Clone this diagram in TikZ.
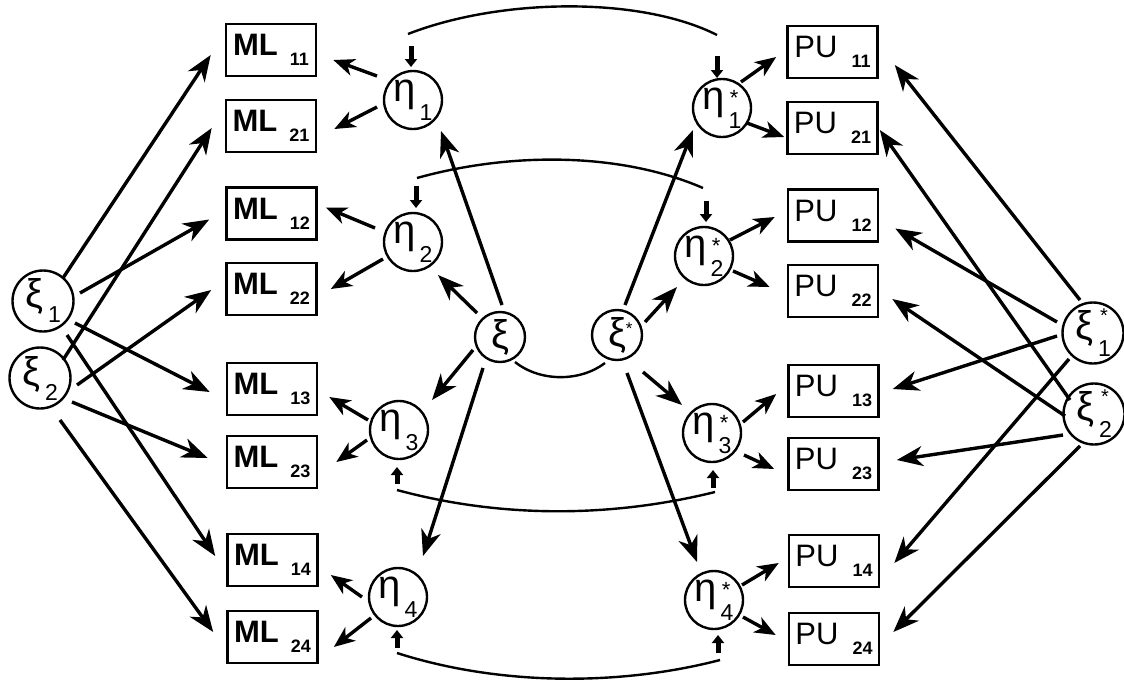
\documentclass[tikz,border=0pt]{standalone}
\usepackage{fontspec}
\setmainfont{Liberation Sans}
\usetikzlibrary{arrows.meta}
\newcommand\mlt[1]{{\fontsize{31}{31}\selectfont\bfseries ML}\hspace{12pt}\raisebox{-10pt}{\fontsize{18}{18}\selectfont\bfseries #1}}
\newcommand\pult[1]{{\fontsize{31}{31}\selectfont PU}\hspace{14pt}\raisebox{-10pt}{\fontsize{18}{18}\selectfont\bfseries #1}}
\newcommand\gkfont{\fontsize{40}{40}\selectfont}
\newcommand\gsub[2][19pt]{\raisebox{-#1}{\fontsize{23}{23}\selectfont #2}}
\newcommand\gstar[2][22pt]{\llap{\raisebox{#2}{\fontsize{#1}{#1}\selectfont *}\hspace{3pt}}}
\begin{document}
\begin{tikzpicture}[x=1pt,y=-1pt,
  box/.style={draw,line width=2.6pt,minimum width=90pt,minimum height=52pt,inner sep=0pt},
  lat/.style={draw,circle,line width=2.4pt,minimum size=58pt,inner sep=0pt},
  exo/.style={lat,minimum size=61pt},
  cen/.style={lat,minimum size=50pt},
  arr/.style={line width=3.4pt,-{Stealth[length=26pt,width=20pt,inset=8pt]}},
  sarr/.style={line width=3.4pt,-{Stealth[length=21pt,width=17pt,inset=6pt]}},
  dist/.style={line width=5pt,-{Triangle[length=8pt,width=12pt]}},
  corr/.style={line width=2.4pt}]
\useasboundingbox (0,0) rectangle (1124,681);
% boxes
\node[box] (ML11) at (271,50) {\mlt{11}};
\node[box] (ML21) at (271,126) {\mlt{21}};
\node[box] (ML12) at (271.5,213.5) {\mlt{12}};
\node[box] (ML22) at (271.5,289) {\mlt{22}};
\node[box] (ML13) at (272,389) {\mlt{13}};
\node[box] (ML23) at (272,462) {\mlt{23}};
\node[box] (ML14) at (272.5,560) {\mlt{14}};
\node[box] (ML24) at (272.5,637) {\mlt{24}};
\node[box] (PU11) at (832.5,52) {\pult{11}};
\node[box] (PU21) at (832.5,128) {\pult{21}};
\node[box] (PU12) at (833,215.5) {\pult{12}};
\node[box] (PU22) at (833,291) {\pult{22}};
\node[box] (PU13) at (833.5,391) {\pult{13}};
\node[box] (PU23) at (833.5,464) {\pult{23}};
\node[box] (PU14) at (834,561) {\pult{14}};
\node[box] (PU24) at (834,639) {\pult{24}};
% latent circles
\node[lat] (eta1) at (413,100) {{\gkfont η}\hspace{4pt}\gsub{1}};
\node[lat] (eta2) at (413,242) {{\gkfont η}\hspace{4pt}\gsub{2}};
\node[lat] (eta3) at (399,430) {{\gkfont η}\hspace{4pt}\gsub{3}};
\node[lat] (eta4) at (398,597) {{\gkfont η}\hspace{4pt}\gsub{4}};
\node[lat] (etas1) at (722,108) {{\gkfont η}\hspace{4pt}\gsub{1}\gstar{4pt}};
\node[lat] (etas2) at (704,256) {{\gkfont η}\hspace{4pt}\gsub{2}\gstar{4pt}};
\node[lat] (etas3) at (712,433) {{\gkfont η}\hspace{4pt}\gsub{3}\gstar{4pt}};
\node[lat] (etas4) at (714,600) {{\gkfont η}\hspace{4pt}\gsub{4}\gstar{4pt}};
\node[exo] (xi1) at (43,301) {{\gkfont ξ}\hspace{5pt}\gsub[15pt]{1}};
\node[exo] (xi2) at (40,378) {{\gkfont ξ}\hspace{5pt}\gsub[15pt]{2}};
\node[exo] (xis1) at (1093,333) {{\gkfont ξ}\hspace{5pt}\gsub[17pt]{1}\gstar[20pt]{17pt}};
\node[exo] (xis2) at (1094,414) {{\gkfont ξ}\hspace{5pt}\gsub[17pt]{2}\gstar[20pt]{17pt}};
\node[cen] (xi) at (500,337) {{\gkfont ξ}};
\node[cen] (xis) at (617,335) {{\gkfont ξ}\rlap{\raisebox{12pt}{\fontsize{17}{17}\selectfont *}}};
% left fan
\draw[arr] ([shift={(20,-23)}]xi1.center) -- ([shift={(-14,5)}]ML11.west);
\draw[arr] ([shift={(37,-8)}]xi1.center) -- ([shift={(-16,6)}]ML12.west);
\draw[arr] ([shift={(32,22)}]xi1.center) -- ([shift={(-16,3)}]ML13.west);
\draw[arr] ([shift={(24,34)}]xi1.center) -- ([shift={(-11,-4)}]ML14.west);
\draw[arr] ([shift={(23,-18)}]xi2.center) -- ([shift={(-13,2)}]ML21.west);
\draw[arr] ([shift={(37,7)}]xi2.center) -- ([shift={(-14,1)}]ML22.west);
\draw[arr] ([shift={(32,24)}]xi2.center) -- ([shift={(-18,-4)}]ML23.west);
\draw[arr] ([shift={(20,42)}]xi2.center) -- ([shift={(-13,-5)}]ML24.west);
% right fan
\draw[arr] ([shift={(-13,-33)}]xis1.center) -- ([shift={(16,13)}]PU11.east);
\draw[arr] ([shift={(-24,-14)}]xis2.center) -- ([shift={(1,2)}]PU21.east);
\draw[arr] ([shift={(-36,-11)}]xis1.center) -- ([shift={(16,13)}]PU12.east);
\draw[arr] ([shift={(-29,2)}]xis2.center) -- ([shift={(13,8)}]PU22.east);
\draw[arr] ([shift={(-36,3)}]xis1.center) -- ([shift={(13,-2)}]PU13.east);
\draw[arr] ([shift={(-31,21)}]xis2.center) -- ([shift={(17,-4)}]PU23.east);
\draw[arr] ([shift={(-24,26)}]xis1.center) -- ([shift={(14,2)}]PU14.east);
\draw[arr] ([shift={(-14,32)}]xis2.center) -- ([shift={(13,-7)}]PU24.east);
% centre
\draw[arr] ([shift={(2,-32)}]xi.center) -- ([shift={(28,31)}]eta1.center);
\draw[arr] ([shift={(-23,-24)}]xi.center) -- ([shift={(25,33)}]eta2.center);
\draw[arr] ([shift={(-27,13)}]xi.center) -- ([shift={(33,-30)}]eta3.center);
\draw[arr] ([shift={(-17,31)}]xi.center) -- ([shift={(25,-41)}]eta4.center);
\draw[arr] ([shift={(8,-30)}]xis.center) -- ([shift={(-29,22)}]etas1.center);
\draw[arr] ([shift={(28,-13)}]xis.center) -- ([shift={(-27,31)}]etas2.center);
\draw[arr] ([shift={(26,37)}]xis.center) -- ([shift={(-30,-28)}]etas3.center);
\draw[arr] ([shift={(10,38)}]xis.center) -- ([shift={(-17,-38)}]etas4.center);
% eta -> ML
\draw[sarr] ([shift={(-36,-24)}]eta1.center) -- ([shift={(16,10)}]ML11.east);
\draw[sarr] ([shift={(-36,7)}]eta1.center) -- ([shift={(17,3)}]ML21.east);
\draw[sarr] ([shift={(-38,-14)}]eta2.center) -- ([shift={(8,-6)}]ML12.east);
\draw[sarr] ([shift={(-30,17)}]eta2.center) -- ([shift={(13,0)}]ML22.east);
\draw[sarr] ([shift={(-31,-10)}]eta3.center) -- ([shift={(11,8)}]ML13.east);
\draw[sarr] ([shift={(-32,10)}]eta3.center) -- ([shift={(18,0)}]ML23.east);
\draw[sarr] ([shift={(-36,0)}]eta4.center) -- ([shift={(12,15)}]ML14.east);
\draw[sarr] ([shift={(-27,21)}]eta4.center) -- ([shift={(15,10)}]ML24.east);
% eta* -> PU
\draw[sarr] ([shift={(19,-26)}]etas1.center) -- ([shift={(-10,5)}]PU11.west);
\draw[sarr] ([shift={(25,15)}]etas1.center) -- ([shift={(-2,9)}]PU21.west);
\draw[sarr] ([shift={(26,-16)}]etas2.center) -- ([shift={(-12,1.5)}]PU12.west);
\draw[sarr] ([shift={(29,15)}]etas2.center) -- ([shift={(-17,-4)}]PU22.west);
\draw[sarr] ([shift={(31,-11)}]etas3.center) -- ([shift={(-11,3)}]PU13.west);
\draw[sarr] ([shift={(32,22)}]etas3.center) -- ([shift={(-13,5)}]PU23.west);
\draw[sarr] ([shift={(28,-15)}]etas4.center) -- ([shift={(-9,2)}]PU14.west);
\draw[sarr] ([shift={(29,17)}]etas4.center) -- ([shift={(-12,-4)}]PU24.west);
% disturbances
\coordinate (d1) at (411,46);
\coordinate (d2) at (416,186);
\coordinate (d3) at (397,484);
\coordinate (d4) at (397,648);
\coordinate (ds1) at (717,56);
\coordinate (ds2) at (706,201);
\coordinate (ds3) at (713,488);
\coordinate (ds4) at (718,653);
\draw[dist] (d1) -- ([shift={(-2,-33)}]eta1.center);
\draw[dist] (d2) -- ([shift={(3,-34)}]eta2.center);
\draw[dist] (d3) -- ([shift={(-2,37)}]eta3.center);
\draw[dist] (d4) -- ([shift={(-1,33)}]eta4.center);
\draw[dist] (ds1) -- ([shift={(-5,-30)}]etas1.center);
\draw[dist] (ds2) -- ([shift={(2,-34)}]etas2.center);
\draw[dist] (ds3) -- ([shift={(1,37)}]etas3.center);
\draw[dist] (ds4) -- ([shift={(4,35)}]etas4.center);
% correlations
\coordinate (c1a) at (408,34);
\coordinate (c1b) at (717,35);
\coordinate (c2a) at (417,178);
\coordinate (c2b) at (703,188);
\coordinate (c3a) at (397,490);
\coordinate (c3b) at (715,492);
\coordinate (c4a) at (397,653);
\coordinate (c4b) at (720,660);
\draw[corr] (c1a) .. controls (500,-2) and (640,-4) .. (c1b);
\draw[corr] (c2a) .. controls (510,152) and (620,152) .. (c2b);
\draw[corr] (c3a) .. controls (500,518) and (610,518) .. (c3b);
\draw[corr] (c4a) .. controls (500,686) and (620,686) .. (c4b);
\draw[corr] ([shift={(15,25)}]xi.center) .. controls (540,382) and (580,382) .. ([shift={(-12,28)}]xis.center);
\end{tikzpicture}
\end{document}
